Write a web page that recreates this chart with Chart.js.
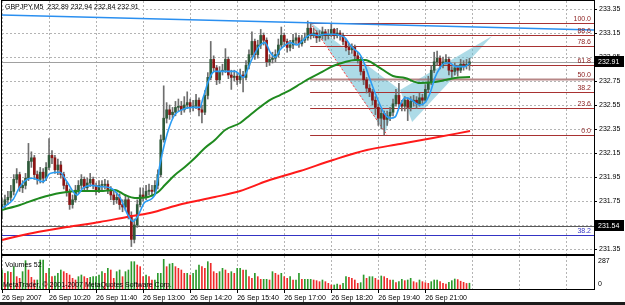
<!DOCTYPE html>
<html>
<head>
<meta charset="utf-8">
<script src="https://cdn.jsdelivr.net/npm/chart.js@4.4.0/dist/chart.umd.min.js"></script>
<style>
  html, body { margin: 0; padding: 0; background: #fff; }
  #wrap { position: relative; width: 625px; height: 305px; overflow: hidden; background: #fff; }
  #priceChart { position: absolute; left: 0; top: 0; }
  #volChart { position: absolute; left: 0; top: 255px; }
  #bottomBar { position: absolute; left: 0; top: 302px; width: 625px; height: 3px; background: #1c1c1c; }
</style>
</head>
<body>
<div id="wrap">
  <canvas id="priceChart" width="625" height="256"></canvas>
  <canvas id="volChart" width="625" height="50"></canvas>
  <div id="bottomBar"></div>
</div>
<script>
// GBPJPY M5 - bougies, moyennes mobiles, retracement de Fibonacci et volumes

const titleText = 'GBPJPY,M5  232.89 232.94 232.84 232.91';

// axe du temps (index de bougie)
const xTickBars = [0, 16, 32, 48, 64, 80, 96, 112, 128, 144];
const xTickLabels = ['26 Sep 2007', '26 Sep 10:20', '26 Sep 11:40', '26 Sep 13:00', '26 Sep 14:20',
                     '26 Sep 15:40', '26 Sep 17:00', '26 Sep 18:20', '26 Sep 19:40', '26 Sep 21:00'];
const xExtraGridBars = [160, 176, 192];
const priceTicks = [233.35, 233.15, 232.95, 232.75, 232.55, 232.35, 232.15, 231.95, 231.75, 231.55, 231.35];
const volumeTicks = [287, 0];

const candleOpen = [
  231.70, 231.72, 231.76, 231.78, 231.83, 231.93, 231.97, 231.86, 231.88, 231.94,
  232.08, 232.11, 231.97, 231.93, 231.99, 231.94, 232.03, 232.13, 232.11, 232.01,
  232.05, 231.97, 231.88, 231.83, 231.72, 231.76, 231.84, 231.88, 231.93, 231.86,
  231.90, 231.93, 231.88, 231.84, 231.88, 231.88, 231.89, 231.84, 231.80, 231.76,
  231.78, 231.72, 231.70, 231.76, 231.63, 231.43, 231.55, 231.72, 231.80, 231.78,
  231.83, 231.84, 231.83, 231.88, 231.97, 232.26, 232.44, 232.51, 232.47, 232.49,
  232.53, 232.54, 232.51, 232.55, 232.57, 232.53, 232.54, 232.59, 232.51, 232.49,
  232.63, 232.78, 232.93, 232.86, 232.76, 232.83, 232.84, 232.93, 232.80, 232.78,
  232.79, 232.76, 232.80, 232.78, 232.88, 232.97, 233.08, 232.97, 233.05, 233.13,
  233.09, 232.91, 232.93, 232.94, 232.97, 233.05, 233.13, 233.08, 233.03, 233.05,
  233.09, 233.11, 233.06, 233.09, 233.11, 233.19, 233.13, 233.15, 233.11, 233.13,
  233.16, 233.13, 233.14, 233.18, 233.13, 233.15, 233.13, 233.08, 233.03, 233.01,
  233.03, 232.96, 232.93, 232.83, 232.76, 232.69, 232.66, 232.59, 232.53, 232.44,
  232.48, 232.43, 232.46, 232.49, 232.56, 232.63, 232.56, 232.54, 232.59, 232.53,
  232.58, 232.59, 232.56, 232.61, 232.59, 232.68, 232.74, 232.84, 232.91, 232.94,
  232.88, 232.91, 232.93, 232.84, 232.83, 232.86, 232.84, 232.89, 232.88, 232.89
];
const candleHigh = [
  231.77, 231.80, 231.83, 231.88, 231.97, 232.02, 231.99, 231.92, 231.98, 232.23,
  232.16, 232.13, 232.00, 232.03, 232.02, 232.07, 232.27, 232.17, 232.13, 232.10,
  232.08, 231.99, 231.91, 231.85, 231.80, 231.88, 231.92, 231.97, 231.95, 231.94,
  231.98, 231.95, 231.90, 231.92, 231.92, 231.93, 231.92, 231.87, 231.83, 231.82,
  231.81, 231.76, 231.80, 231.78, 231.66, 231.60, 231.76, 231.86, 231.86, 231.88,
  231.89, 231.88, 231.92, 232.01, 232.30, 232.71, 232.57, 232.55, 232.53, 232.58,
  232.60, 232.58, 232.62, 232.66, 232.60, 232.59, 232.64, 232.61, 232.55, 232.67,
  232.82, 233.08, 232.96, 232.88, 232.87, 232.89, 233.02, 232.95, 232.84, 232.84,
  232.82, 232.85, 232.83, 232.92, 233.01, 233.16, 233.10, 233.09, 233.18, 233.15,
  233.11, 232.97, 232.99, 233.01, 233.10, 233.20, 233.15, 233.10, 233.09, 233.14,
  233.15, 233.13, 233.13, 233.15, 233.25, 233.24, 233.19, 233.17, 233.17, 233.20,
  233.18, 233.18, 233.23, 233.19, 233.19, 233.17, 233.15, 233.10, 233.06, 233.06,
  233.05, 232.99, 232.95, 232.85, 232.78, 232.72, 232.68, 232.62, 232.56, 232.52,
  232.50, 232.50, 232.53, 232.60, 232.68, 232.73, 232.59, 232.62, 232.61, 232.62,
  232.63, 232.62, 232.65, 232.64, 232.72, 232.79, 232.88, 232.99, 233.00, 232.96,
  232.95, 232.97, 232.95, 232.87, 232.90, 232.88, 232.93, 232.92, 232.93, 232.94
];
const candleLow = [
  231.60, 231.69, 231.72, 231.75, 231.80, 231.90, 231.83, 231.82, 231.85, 231.92,
  232.03, 231.93, 231.89, 231.90, 231.90, 231.92, 232.01, 232.06, 231.98, 231.97,
  231.94, 231.85, 231.79, 231.68, 231.69, 231.74, 231.81, 231.85, 231.83, 231.83,
  231.87, 231.85, 231.80, 231.82, 231.84, 231.85, 231.81, 231.76, 231.72, 231.73,
  231.68, 231.66, 231.67, 231.60, 231.37, 231.40, 231.53, 231.70, 231.75, 231.76,
  231.80, 231.79, 231.80, 231.85, 231.95, 232.24, 232.40, 232.43, 232.44, 232.46,
  232.50, 232.47, 232.49, 232.52, 232.49, 232.50, 232.52, 232.46, 232.40, 232.47,
  232.60, 232.76, 232.83, 232.72, 232.73, 232.80, 232.82, 232.77, 232.68, 232.75,
  232.72, 232.73, 232.66, 232.76, 232.85, 232.95, 232.93, 232.94, 233.02, 233.05,
  232.87, 232.88, 232.90, 232.91, 232.95, 233.03, 233.04, 232.99, 233.00, 233.02,
  233.06, 233.03, 233.04, 233.07, 233.09, 233.10, 233.11, 233.07, 233.08, 233.10,
  233.09, 233.10, 233.12, 233.10, 233.11, 233.09, 233.05, 233.00, 232.97, 232.98,
  232.93, 232.90, 232.80, 232.72, 232.65, 232.62, 232.55, 232.47, 232.38, 232.35,
  232.30, 232.38, 232.42, 232.46, 232.54, 232.53, 232.50, 232.50, 232.42, 232.50,
  232.54, 232.52, 232.54, 232.55, 232.57, 232.66, 232.72, 232.82, 232.88, 232.85,
  232.86, 232.89, 232.80, 232.78, 232.80, 232.79, 232.82, 232.84, 232.85, 232.84
];
const candleClose = [
  231.72, 231.76, 231.78, 231.83, 231.93, 231.97, 231.86, 231.88, 231.94, 232.08,
  232.11, 231.97, 231.93, 231.99, 231.94, 232.03, 232.13, 232.11, 232.01, 232.05,
  231.97, 231.88, 231.83, 231.72, 231.76, 231.84, 231.88, 231.93, 231.86, 231.90,
  231.93, 231.88, 231.84, 231.88, 231.88, 231.89, 231.84, 231.80, 231.76, 231.78,
  231.72, 231.70, 231.76, 231.63, 231.43, 231.55, 231.72, 231.80, 231.78, 231.83,
  231.84, 231.83, 231.88, 231.97, 232.26, 232.44, 232.51, 232.47, 232.49, 232.53,
  232.54, 232.51, 232.55, 232.57, 232.53, 232.54, 232.59, 232.51, 232.49, 232.63,
  232.78, 232.93, 232.86, 232.76, 232.83, 232.84, 232.93, 232.80, 232.78, 232.79,
  232.76, 232.80, 232.78, 232.88, 232.97, 233.08, 232.97, 233.05, 233.13, 233.09,
  232.91, 232.93, 232.94, 232.97, 233.05, 233.13, 233.08, 233.03, 233.05, 233.09,
  233.11, 233.06, 233.09, 233.11, 233.19, 233.13, 233.15, 233.11, 233.13, 233.16,
  233.13, 233.14, 233.18, 233.13, 233.15, 233.13, 233.08, 233.03, 233.01, 233.03,
  232.96, 232.93, 232.83, 232.76, 232.69, 232.66, 232.59, 232.53, 232.44, 232.48,
  232.43, 232.46, 232.49, 232.56, 232.63, 232.56, 232.54, 232.59, 232.53, 232.58,
  232.59, 232.56, 232.61, 232.59, 232.68, 232.74, 232.84, 232.91, 232.94, 232.88,
  232.91, 232.93, 232.84, 232.83, 232.86, 232.84, 232.89, 232.88, 232.89, 232.91
];
const volumes = [
  171, 141, 156, 150, 201, 111, 96, 156, 255, 171,
  105, 81, 81, 261, 261, 141, 186, 111, 117, 141,
  171, 156, 141, 126, 96, 81, 111, 126, 111, 96,
  105, 111, 111, 126, 156, 141, 186, 171, 96, 156,
  171, 111, 156, 171, 246, 246, 216, 201, 111, 126,
  111, 81, 81, 141, 141, 267, 201, 225, 231, 201,
  186, 171, 141, 141, 126, 141, 171, 216, 201, 186,
  246, 231, 156, 141, 156, 186, 171, 141, 156, 141,
  186, 186, 171, 171, 111, 96, 141, 111, 87, 87,
  87, 81, 156, 141, 126, 141, 111, 96, 111, 81,
  81, 141, 87, 87, 87, 87, 81, 75, 66, 81,
  66, 51, 36, 36, 45, 36, 51, 111, 105, 96,
  81, 51, 57, 126, 96, 111, 111, 96, 81, 117,
  111, 96, 81, 81, 57, 66, 87, 75, 81, 96,
  66, 57, 81, 66, 57, 51, 66, 81, 81, 66,
  51, 45, 60, 75, 90, 85, 70, 60, 50, 52
];

// moyennes mobiles (index de bougie, prix)
const maFastBars = [0, 3.7, 6.1, 8.5, 10.5, 14, 16.3, 19.7, 22.1, 25.5, 27.6, 30.6, 33.3, 36.7, 40.1,
  42.9, 44.6, 46.3, 48.6, 52, 53.7, 55.4, 57.1, 58.8, 61.2, 64.6, 67.3, 68.4, 70.7, 72.4,
  75.9, 79.3, 81, 82, 84.4, 86, 87.8, 89.5, 91.2, 92.9, 94.6, 96.3, 98, 100.3, 102,
  103.7, 105.4, 107.5, 109.9, 112.6, 115, 116.7, 118.4, 120.1, 121.8, 123.5, 125.2, 126.9, 128.6, 130.3,
  132, 133.7, 135.4, 137.1, 138.8, 140.5, 142.2, 143.9, 145.6, 147.3, 149, 150.7, 152.4, 154.1, 155.8,
  157.5, 159];
const maFastPrices = [231.69, 231.76, 231.87, 231.93, 231.94, 231.91, 231.98, 231.99, 231.91, 231.80, 231.86, 231.88, 231.87, 231.86, 231.78,
  231.63, 231.58, 231.63, 231.74, 231.80, 232.05, 232.24, 232.38, 232.47, 232.51, 232.53, 232.53, 232.61, 232.78, 232.83,
  232.83, 232.83, 232.80, 232.78, 232.90, 232.98, 233.05, 233.07, 232.99, 232.95, 233.01, 233.05, 233.07, 233.05, 233.08,
  233.12, 233.14, 233.13, 233.14, 233.14, 233.13, 233.11, 233.05, 233.01, 232.97, 232.88, 232.76, 232.65, 232.55, 232.47,
  232.44, 232.45, 232.55, 232.61, 232.60, 232.57, 232.55, 232.57, 232.65, 232.78, 232.86, 232.90, 232.90, 232.87, 232.87,
  232.87, 232.90];
const maSlowBars = [0, 6.1, 12.9, 19.7, 26.5, 33.3, 38.4, 41.8, 45.2, 49.7, 53.1, 55.4, 58.8, 62.2, 65.6,
  69, 72.4, 75.9, 81, 84.4, 87.8, 91.2, 94.6, 98, 101.4, 104.8, 108.2, 112.6, 116.7, 120.1,
  123.5, 127.6, 133, 137.1, 142.2, 147.3, 150.7, 154.1, 159.2];
const maSlowPrices = [231.675, 231.717, 231.775, 231.817, 231.833, 231.833, 231.842, 231.80, 231.775, 231.783, 231.825, 231.883, 231.967, 232.033, 232.108,
  232.192, 232.258, 232.342, 232.40, 232.467, 232.533, 232.592, 232.633, 232.675, 232.725, 232.775, 232.817, 232.875, 232.908, 232.925,
  232.925, 232.875, 232.792, 232.775, 232.733, 232.742, 232.758, 232.775, 232.783];
const maLongBars = [0, 10.5, 22.1, 33.3, 42.5, 50.3, 61.2, 72.4, 81, 90.1, 101.4, 112.6, 124.1, 135.4, 146.6, 159.2];
const maLongPrices = [231.425, 231.483, 231.533, 231.575, 231.617, 231.65, 231.725, 231.783, 231.833, 231.917, 232.00, 232.092, 232.175, 232.225, 232.275, 232.333];

// objets graphiques
const trendBars = [0, 201.36];
const trendPrices = [233.30, 233.175];
const fibLineBars = [104.8, 131];
const fibLinePrices = [233.237, 232.30];
const fibStartBar = 104.8;
const fibLabels = ['100.0', '88.6', '78.6', '61.8', '50.0', '38.2', '23.6', '0.0'];
const fibPrices = [233.237, 233.133, 233.042, 232.883, 232.767, 232.658, 232.525, 232.30];
const patternBars = [104.8, 130.3, 135.4, 139.5, 166.7];     // X A B C D
const patternPrices = [233.242, 232.317, 232.675, 232.408, 233.125];
const bidPrice = 232.91;
const markPrice = 231.54;
const blueLevelPrice = 231.47;
const blueLevelLabel = '38.2';

const barMax = 201.36;
const priceMin = 231.308;
const priceMax = 233.417;
const volumeMax = 297;

const FONT = 'Liberation Sans';
const gridColor = '#b4b4b4';
const bullColor = '#2f5a3a';
const bearColor = '#8c1414';
const wickColor = '#6e6e6e';

const zip = (xs, ys) => xs.map((x, k) => ({ x: x, y: ys[k] }));
const barIndex = candleClose.map((c, i) => i);
const gridBars = xTickBars.concat(xExtraGridBars);

// pas de marge automatique autour des axes
function noPadding(s) {
  s.paddingTop = 0; s.paddingBottom = 0; s.paddingLeft = 0; s.paddingRight = 0;
}

// grille pointillée à partir des graduations des échelles
function drawGrid(chart, withHorizontal) {
  const { ctx, chartArea: a, scales: { x, y } } = chart;
  ctx.save();
  ctx.strokeStyle = gridColor;
  ctx.lineWidth = 1;
  ctx.setLineDash([2, 2]);
  x.ticks.forEach(t => {
    const px = Math.round(x.getPixelForValue(t.value)) + 0.5;
    ctx.beginPath(); ctx.moveTo(px, a.top); ctx.lineTo(px, a.bottom); ctx.stroke();
  });
  if (withHorizontal) {
    y.ticks.forEach(t => {
      const py = Math.round(y.getPixelForValue(t.value)) + 0.5;
      ctx.beginPath(); ctx.moveTo(a.left, py); ctx.lineTo(a.right, py); ctx.stroke();
    });
  }
  ctx.restore();
}

function priceBox(ctx, yPix, text) {
  ctx.fillStyle = '#000';
  ctx.fillRect(595, Math.round(yPix) - 6, 29, 11);
  ctx.fillStyle = '#fff';
  ctx.textAlign = 'left';
  ctx.textBaseline = 'middle';
  ctx.fillText(text, 598, Math.round(yPix));
}

const priceOverlay = {
  id: 'priceOverlay',
  beforeDatasetsDraw(chart) {
    const { ctx, chartArea: a, scales: { x, y } } = chart;
    drawGrid(chart, true);
    ctx.save();
    ctx.beginPath();
    ctx.rect(a.left, a.top, a.right - a.left, a.bottom - a.top);
    ctx.clip();

    // triangles XAB et BCD
    ctx.fillStyle = 'rgba(105, 190, 212, 0.55)';
    [[0, 1, 2], [2, 3, 4]].forEach(tri => {
      ctx.beginPath();
      tri.forEach((k, n) => {
        const px = x.getPixelForValue(patternBars[k]);
        const py = y.getPixelForValue(patternPrices[k]);
        if (n === 0) ctx.moveTo(px, py); else ctx.lineTo(px, py);
      });
      ctx.closePath();
      ctx.fill();
    });

    // niveaux de Fibonacci
    const x0 = x.getPixelForValue(fibStartBar);
    fibPrices.forEach((p, k) => {
      const py = Math.round(y.getPixelForValue(p)) + 0.5;
      ctx.strokeStyle = fibLabels[k] === '50.0' ? 'rgba(165, 105, 105, 0.8)' : '#a83232';
      ctx.lineWidth = fibLabels[k] === '50.0' ? 2 : 1;
      ctx.beginPath();
      ctx.moveTo(x0, py);
      ctx.lineTo(a.right, py);
      ctx.stroke();
    });

    // lignes horizontales sur toute la largeur
    [[bidPrice, '#a0a0a0'], [markPrice, '#5a5a5a'], [blueLevelPrice, '#3434c4']].forEach(([p, c]) => {
      const py = Math.round(y.getPixelForValue(p)) + 0.5;
      ctx.strokeStyle = c;
      ctx.lineWidth = 1;
      ctx.beginPath();
      ctx.moveTo(a.left, py);
      ctx.lineTo(a.right, py);
      ctx.stroke();
    });
    ctx.restore();
  },
  afterDraw(chart) {
    const { ctx, chartArea: a, scales: { y } } = chart;
    ctx.save();
    ctx.font = '7px "' + FONT + '"';

    // étiquettes Fibonacci
    ctx.textAlign = 'right';
    ctx.textBaseline = 'bottom';
    ctx.fillStyle = '#8b1c1c';
    fibPrices.forEach((p, k) => {
      ctx.fillText(fibLabels[k], a.right - 3, Math.round(y.getPixelForValue(p)) - 0.5);
    });
    ctx.fillStyle = '#3434c4';
    ctx.fillText(blueLevelLabel, a.right - 3, Math.round(y.getPixelForValue(blueLevelPrice)) - 0.5);

    // titre
    ctx.fillStyle = '#000';
    ctx.textAlign = 'left';
    ctx.textBaseline = 'middle';
    ctx.fillText(titleText, 5, 7);

    // cadre et graduations de l'axe des prix
    ctx.strokeStyle = '#000';
    ctx.lineWidth = 1;
    ctx.strokeRect(a.left - 0.5, a.top - 0.5, a.right - a.left + 1, a.bottom - a.top + 1);
    y.ticks.forEach(t => {
      const py = Math.round(y.getPixelForValue(t.value)) + 0.5;
      ctx.beginPath(); ctx.moveTo(a.right, py); ctx.lineTo(a.right + 3, py); ctx.stroke();
    });

    // étiquettes de prix encadrées
    priceBox(ctx, y.getPixelForValue(bidPrice), bidPrice.toFixed(2));
    priceBox(ctx, y.getPixelForValue(markPrice), markPrice.toFixed(2));
    ctx.restore();
  }
};

const volumeOverlay = {
  id: 'volumeOverlay',
  beforeDatasetsDraw(chart) {
    drawGrid(chart, false);
  },
  afterDraw(chart) {
    const { ctx, chartArea: a, scales: { x, y } } = chart;
    ctx.save();
    ctx.font = '7px "' + FONT + '"';
    ctx.fillStyle = '#000';
    ctx.textAlign = 'left';
    ctx.textBaseline = 'middle';
    ctx.fillText('Volumes ' + volumes[volumes.length - 1], 5, 10);
    ctx.fillText('MetaTrader, \u00a9 2001-2007 MetaQuotes Software Corp.', 3, 30);
    ctx.fillText(String(volumeTicks[0]), a.right + 4, y.getPixelForValue(volumeTicks[0]) + 4);
    ctx.fillText(String(volumeTicks[1]), a.right + 4, y.getPixelForValue(volumeTicks[1]) - 5);
    ctx.strokeStyle = '#000';
    ctx.lineWidth = 1;
    ctx.strokeRect(a.left - 0.5, a.top - 0.5, a.right - a.left + 1, a.bottom - a.top + 1);
    xTickBars.forEach(b => {
      const px = Math.round(x.getPixelForValue(b)) + 0.5;
      ctx.beginPath(); ctx.moveTo(px, a.bottom); ctx.lineTo(px, a.bottom + 4); ctx.stroke();
    });
    ctx.restore();
  }
};

const lineStyle = { type: 'line', pointRadius: 0, borderWidth: 2, fill: false };

new Chart(document.getElementById('priceChart'), {
  type: 'bar',
  data: {
    datasets: [
      { ...lineStyle, data: zip(trendBars, trendPrices), borderColor: '#2a8ff0', borderWidth: 1.6, order: 0 },
      { ...lineStyle, data: zip(maFastBars, maFastPrices), borderColor: '#2a9df4', borderWidth: 1.6, cubicInterpolationMode: 'monotone', order: 1 },
      { ...lineStyle, data: zip(maSlowBars, maSlowPrices), borderColor: '#1f8a1f', cubicInterpolationMode: 'monotone', order: 2 },
      { ...lineStyle, data: zip(maLongBars, maLongPrices), borderColor: '#ff1a1a', cubicInterpolationMode: 'monotone', order: 3 },
      {
        data: barIndex.map(i => ({ x: i, y: [candleOpen[i], candleClose[i]] })),
        backgroundColor: c => candleClose[c.dataIndex] >= candleOpen[c.dataIndex] ? bullColor : bearColor,
        barThickness: 2, grouped: false, minBarLength: 1, order: 4
      },
      {
        data: barIndex.map(i => ({ x: i, y: [candleLow[i], candleHigh[i]] })),
        backgroundColor: wickColor, barThickness: 1, grouped: false, order: 5
      },
      { ...lineStyle, data: zip(fibLineBars, fibLinePrices), borderColor: '#ff3b3b', borderWidth: 1, borderDash: [2, 2], order: 6 }
    ]
  },
  options: {
    responsive: false,
    animation: false,
    devicePixelRatio: 1,
    events: [],
    layout: { padding: { left: 2, top: 1, right: 0, bottom: 2 } },
    plugins: { legend: { display: false }, tooltip: { enabled: false } },
    scales: {
      x: {
        type: 'linear', min: 0, max: barMax, offset: false,
        afterBuildTicks: s => { s.ticks = gridBars.map(v => ({ value: v })); },
        afterFit: s => { s.height = 0; noPadding(s); },
        ticks: { display: false },
        grid: { display: false, drawTicks: false },
        border: { display: false }
      },
      y: {
        type: 'linear', position: 'right', min: priceMin, max: priceMax,
        afterBuildTicks: s => { s.ticks = priceTicks.map(v => ({ value: v })); },
        afterFit: s => { s.width = 31; noPadding(s); },
        ticks: { font: { family: FONT, size: 7 }, color: '#000', padding: 2, autoSkip: false, callback: v => v.toFixed(2) },
        grid: { display: false, drawTicks: true, tickLength: 3 },
        border: { display: false }
      }
    }
  },
  plugins: [priceOverlay]
});

new Chart(document.getElementById('volChart'), {
  type: 'bar',
  data: {
    datasets: [{
      data: barIndex.map(i => ({ x: i, y: volumes[i] })),
      backgroundColor: c => (c.dataIndex === 0 || volumes[c.dataIndex] >= volumes[c.dataIndex - 1]) ? '#2c9a2c' : '#ee2a2a',
      barThickness: 1
    }]
  },
  options: {
    responsive: false,
    animation: false,
    devicePixelRatio: 1,
    events: [],
    layout: { padding: { left: 2, top: 1, right: 0, bottom: 2 } },
    plugins: { legend: { display: false }, tooltip: { enabled: false } },
    scales: {
      x: {
        type: 'linear', min: 0, max: barMax, offset: false,
        afterBuildTicks: s => { s.ticks = gridBars.map(v => ({ value: v })); },
        afterFit: s => { s.height = 14; noPadding(s); },
        ticks: {
          font: { family: FONT, size: 7 }, color: '#000', align: 'start', maxRotation: 0, autoSkip: false, padding: 1,
          callback: v => { const k = xTickBars.indexOf(v); return k >= 0 ? xTickLabels[k] : ''; }
        },
        grid: { display: false, drawTicks: true, tickLength: 4 },
        border: { display: false }
      },
      y: {
        position: 'right', min: 0, max: volumeMax,
        afterFit: s => { s.width = 31; noPadding(s); },
        ticks: { display: false },
        grid: { display: false },
        border: { display: false }
      }
    }
  },
  plugins: [volumeOverlay]
});
</script>
</body>
</html>
